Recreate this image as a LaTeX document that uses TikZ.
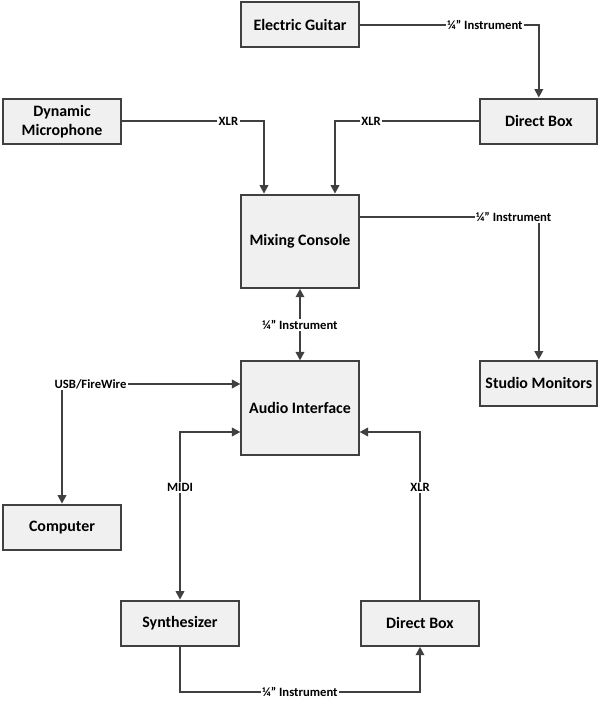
\documentclass[tikz,border=0pt]{standalone}
\usepackage{fontspec}
\setmainfont{Carlito}
\usepackage{tikz}
\usetikzlibrary{positioning}
\usetikzlibrary{arrows.meta}

\definecolor{boxline}{HTML}{404040}
\definecolor{boxfill}{HTML}{F0F0F0}

\begin{document}
\begin{tikzpicture}[
	box/.style={draw=boxline, fill=boxfill, line width=1.4pt, minimum width=2.93cm,
	            minimum height=1.13cm, align=center, font=\bfseries\fontsize{11.3}{13.5}\selectfont},
	bigbox/.style={box, minimum height=2.33cm},
	conn/.style={draw=boxline, line width=1.4pt, -{Triangle[length=6pt,width=6pt]}},
	both/.style={conn, {Triangle[length=6pt,width=6pt]}-{Triangle[length=6pt,width=6pt]}},
	lbl/.style={fill=white, inner sep=1pt, text=black, font=\bfseries\fontsize{9}{10.5}\selectfont}
	]

	\useasboundingbox (0,0) rectangle (15,-17.6);

	%Boxes
	\node[box] (Guitar) at (7.50cm,-0.62cm) {Electric Guitar};
	\node[box] (DBoxTop) at (13.47cm,-3.03cm) {Direct Box};
	\node[box] (Mic) at (1.55cm,-3.03cm) {Dynamic\\Microphone};
	\node[bigbox] (Mixer) at (7.50cm,-6.03cm) {Mixing Console};
	\node[box] (Monitors) at (13.47cm,-9.58cm) {Studio Monitors};
	\node[bigbox] (Iface) at (7.50cm,-10.20cm) {Audio Interface};
	\node[box] (Computer) at (1.55cm,-13.18cm) {Computer};
	\node[box] (Synth) at (4.50cm,-15.58cm) {Synthesizer};
	\node[box] (DBoxBot) at (10.50cm,-15.58cm) {Direct Box};

	%Cables into the console
	\draw[conn] (Guitar.east) -| node[lbl, pos=0.35] {¼” Instrument} (DBoxTop.north);
	\draw[conn] (DBoxTop.west) -| node[lbl, pos=0.375] {XLR} ([xshift=0.875cm]Mixer.north);
	\draw[conn] (Mic.east) -| node[lbl, pos=0.375] {XLR} ([xshift=-0.9cm]Mixer.north);
	\draw[conn] ([yshift=0.6cm]Mixer.east) -| node[lbl, pos=0.43] {¼” Instrument} (Monitors.north);
	\draw[both] (Mixer.south) -- node[lbl] {¼” Instrument} (Iface.north);

	%Cables around the interface
	\draw[both] (Computer.north) |- node[lbl, pos=0.58] {USB/FireWire} ([yshift=0.6cm]Iface.west);
	\draw[both] ([yshift=-0.6cm]Iface.west) -| node[lbl, pos=0.665] {MIDI} (Synth.north);
	\draw[conn] (Synth.south) -- ++(0,-1.125) -| node[lbl, pos=0.25] {¼” Instrument} (DBoxBot.south);
	\draw[conn] (DBoxBot.north) |- node[lbl, pos=0.335] {XLR} ([yshift=-0.6cm]Iface.east);

\end{tikzpicture}
\end{document}
